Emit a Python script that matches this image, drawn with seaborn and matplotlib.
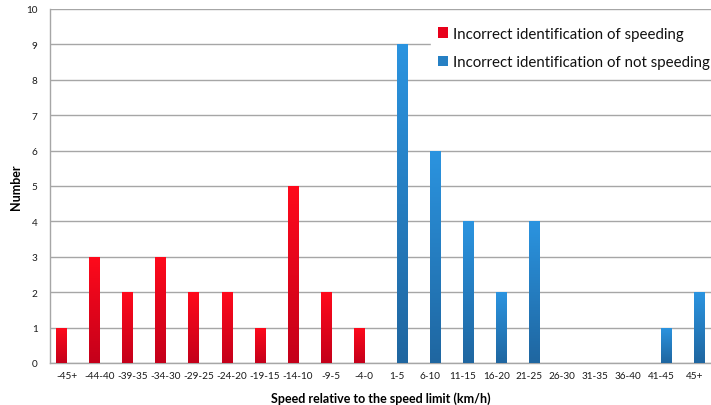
import numpy as np
import pandas as pd
import matplotlib
matplotlib.use("Agg")
import matplotlib.pyplot as plt
import seaborn as sns
from matplotlib.colors import LinearSegmentedColormap
from matplotlib.patches import Rectangle

categories = ["-45+", "-44-40", "-39-35", "-34-30", "-29-25", "-24-20", "-19-15",
              "-14-10", "-9-5", "-4-0", "1-5", "6-10", "11-15", "16-20", "21-25",
              "26-30", "31-35", "36-40", "41-45", "45+"]
speeding = [1, 3, 2, 3, 2, 2, 1, 5, 2, 1, 0, 0, 0, 0, 0, 0, 0, 0, 0, 0]
not_speeding = [0, 0, 0, 0, 0, 0, 0, 0, 0, 0, 9, 6, 4, 2, 4, 0, 0, 0, 1, 2]
series_names = ["Incorrect identification of speeding",
                "Incorrect identification of not speeding"]

df = pd.DataFrame({
    "cat": categories * 2,
    "value": speeding + not_speeding,
    "series": [series_names[0]] * len(categories) + [series_names[1]] * len(categories),
})

sns.set_style("white")
plt.rcParams["font.family"] = ["Lato", "DejaVu Sans"]

fig = plt.figure(figsize=(7.11, 4.06), dpi=100)
ax = fig.add_axes([50 / 711, 1 - 364 / 406, 1 - 50 / 711, (364 - 10) / 406])

top_cols = {series_names[0]: "#ff0a1c", series_names[1]: "#2b94e0"}
bot_cols = {series_names[0]: "#c4001a", series_names[1]: "#1f66a0"}
mid_cols = {series_names[0]: "#e8001b", series_names[1]: "#2680c4"}

sns.barplot(data=df, x="cat", y="value", hue="series", order=categories,
            hue_order=series_names, palette=mid_cols, width=0.62,
            dodge=True, ax=ax, legend=False, linewidth=0, saturation=1)

# gradient fill per bar
n = len(categories)
for i, patch in enumerate(list(ax.patches)):
    h = patch.get_height()
    if h <= 0:
        patch.set_visible(False)
        continue
    s = series_names[0] if i < n else series_names[1]
    cmap = LinearSegmentedColormap.from_list("g", [bot_cols[s], top_cols[s]])
    x0 = patch.get_x()
    w = patch.get_width()
    grad = np.linspace(0, 1, 256).reshape(-1, 1)
    im = ax.imshow(grad, cmap=cmap, origin="lower", aspect="auto",
                   extent=[x0, x0 + w, 0, h], zorder=3)
    im.set_clip_path(patch)
    patch.set_facecolor("none")

ax.set_xlim(-0.5, n - 0.5)
ax.set_ylim(0, 10)
ax.set_yticks(range(0, 11))
ax.yaxis.grid(True, color="#a6a6a6", linewidth=1)
ax.set_axisbelow(True)

for side in ["top", "right"]:
    ax.spines[side].set_visible(False)
for side in ["left", "bottom"]:
    ax.spines[side].set_color("#a6a6a6")
    ax.spines[side].set_linewidth(1)

ax.set_xticks(range(n))
ax.set_xticklabels(categories)
ax.set_xticks(np.arange(-0.5, n, 1), minor=True)
ax.tick_params(axis="x", which="major", length=0, labelsize=7.2, pad=6)
ax.tick_params(axis="x", which="minor", length=4, color="#a6a6a6", direction="out")
ax.tick_params(axis="y", which="major", length=4, color="#a6a6a6", labelsize=7.2,
               pad=5, direction="out")
ax.tick_params(axis="x", which="major", labelcolor="#1a1a1a")
ax.tick_params(axis="y", labelcolor="#1a1a1a")

ax.set_xlabel("Speed relative to the speed limit (km/h)", fontsize=9,
              fontweight="bold", labelpad=8, color="#000000")
ax.set_ylabel("Number", fontsize=9, fontweight="bold", color="#000000")
ax.yaxis.set_label_coords((22 - 50) / 661, 0.5)

handles = [Rectangle((0, 0), 1, 1, facecolor=mid_cols[s], edgecolor="none")
           for s in series_names]
leg = ax.legend(handles, series_names, loc="upper right",
                bbox_to_anchor=(1.0 + 6 / 661, 0.971),
                frameon=True, fontsize=10.8, handlelength=0.65, handleheight=0.65,
                handletextpad=0.3, labelspacing=0.95, borderpad=0.5,
                borderaxespad=0.0)
leg.get_frame().set_facecolor("white")
leg.get_frame().set_edgecolor("white")
leg.get_frame().set_alpha(1)
leg.get_frame().set_boxstyle("square", pad=0)
for t in leg.get_texts():
    t.set_color("#111111")

fig.savefig("out.png", dpi=100)
